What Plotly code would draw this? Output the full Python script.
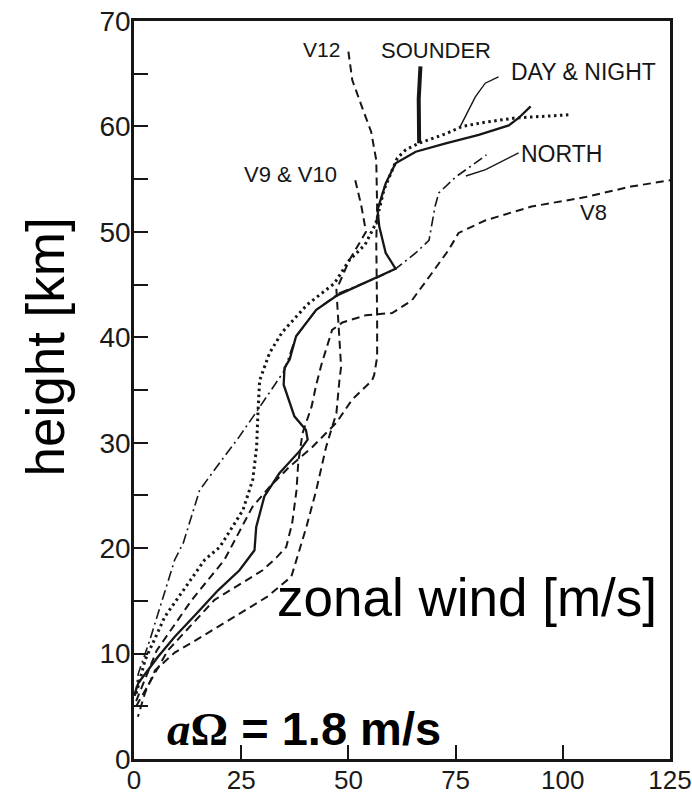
import plotly.graph_objects as go

# Zonal wind profiles (m/s) versus height (km)
sounder_u = [0.0, 1.0, 5.6, 9.5, 14.6, 19.6, 24.6, 28.1, 28.5, 30.4, 33.9, 38.6, 40.5, 40.1,
             37.4, 35.5, 34.9, 35.1, 36.3, 37.8, 42.5, 47.5, 56.4, 61.0, 58.7, 57.2, 56.8,
             58.3, 58.7, 61.0, 65.7, 72.7, 80.4, 87.4, 89.7, 92.5]
sounder_z = [6.0, 7.2, 9.7, 11.6, 13.8, 16.0, 17.9, 19.8, 22.0, 24.9, 27.1, 29.2, 30.3, 31.2,
             32.5, 34.7, 35.5, 37.1, 37.9, 40.1, 42.6, 44.0, 45.6, 46.5, 48.0, 50.5, 52.1,
             54.0, 54.6, 56.5, 57.6, 58.4, 59.2, 60.1, 60.8, 61.9]

daynight_u = [0.5, 2.6, 7.2, 12.6, 16.5, 20.0, 25.4, 27.7, 28.6, 28.9, 29.3, 31.6, 34.6, 40.4,
              46.7, 50.2, 53.9, 56.4, 58.3, 61.4, 63.4, 66.4, 72.7, 76.5, 81.9, 88.9, 101.3]
daynight_z = [6.2, 9.4, 13.5, 16.7, 18.9, 20.1, 23.6, 26.5, 29.6, 32.8, 35.9, 38.5, 40.5, 43.1,
              45.1, 47.3, 48.8, 50.8, 54.0, 57.0, 57.8, 58.4, 59.3, 60.0, 60.4, 60.8, 61.1]

north_u = [0.3, 1.0, 3.7, 6.4, 9.5, 11.5, 13.0, 15.3, 20.0, 24.6, 28.5, 33.2, 35.0, 37.8, 42.5,
           47.9, 56.4, 61.0, 65.7, 68.8, 69.5, 70.2, 71.1, 75.0, 78.8, 82.2]
north_z = [6.0, 8.1, 11.3, 14.8, 18.9, 20.5, 22.4, 25.5, 28.1, 30.6, 32.9, 35.8, 36.8, 40.1, 42.6,
           44.2, 45.6, 46.5, 48.0, 49.2, 50.8, 52.4, 53.7, 55.2, 56.3, 57.3]

v8_u = [0.5, 7.9, 18.8, 30.0, 33.2, 35.5, 36.9, 37.9, 38.3, 39.3, 41.4, 42.5, 43.7, 46.2, 48.6,
        54.1, 60.2, 64.8, 69.5, 73.4, 75.7, 82.0, 92.7, 105.3, 115.9, 125.2]
v8_z = [5.0, 10.3, 15.1, 17.9, 19.1, 20.1, 22.4, 25.5, 28.1, 30.9, 33.4, 35.5, 37.4, 40.7, 41.4,
        42.1, 42.3, 43.5, 46.1, 48.3, 49.9, 51.1, 52.4, 53.3, 54.3, 54.9]

v12_u = [50.0, 50.9, 53.2, 55.3, 56.5, 56.7, 56.5, 56.7, 56.7, 56.7, 56.0, 55.5, 50.9, 47.2,
         41.6, 36.2, 31.6, 27.6, 21.1, 13.5, 5.3, 0.5]
v12_z = [67.1, 64.4, 61.8, 59.5, 56.8, 52.4, 49.0, 45.0, 41.9, 38.1, 36.4, 35.9, 34.1, 31.9,
         29.6, 27.7, 25.8, 23.9, 18.9, 15.1, 10.3, 5.5]

v9v10_u = [51.6, 53.0, 54.1, 52.5, 50.2, 47.2, 47.5, 47.9, 48.3, 47.9, 47.2, 44.8, 42.5, 40.2,
           37.9, 36.7, 31.1, 23.5, 15.8, 9.5, 4.9, 2.6, 0.9]
v9v10_z = [54.9, 52.5, 50.0, 48.9, 47.3, 44.5, 42.5, 40.4, 37.2, 35.9, 32.8, 29.6, 25.5, 22.0,
           18.9, 17.3, 15.4, 13.5, 11.6, 10.1, 8.4, 6.3, 4.0]

# Leader lines from the curve labels
sounder_tag_u = [66.5, 66.4, 66.8]
sounder_tag_z = [58.4, 62.6, 65.7]
daynight_tag_u = [76.1, 79.6, 81.9, 85.0]
daynight_tag_z = [60.0, 62.8, 64.1, 64.7]
north_tag_u = [77.4, 82.0, 89.7]
north_tag_z = [55.3, 55.9, 57.5]

# Curve label texts, anchor points (u, z) and font sizes
label_text = ["V12", "SOUNDER", "DAY & NIGHT", "V9 & V10", "NORTH", "V8"]
label_u = [43.7, 70.4, 104.8, 36.5, 99.7, 107.1]
label_z = [67.3, 67.2, 65.2, 55.4, 57.4, 51.8]
label_size = [21, 22, 23, 22, 23, 22]

x_ticks = [0, 25, 50, 75, 100, 125]
y_ticks = [0, 10, 20, 30, 40, 50, 60, 70]

INK = "#161616"
FONT = "Liberation Sans, Arial, Helvetica, sans-serif"

fig = go.Figure()

def curve(u, z, width, dash):
    fig.add_trace(go.Scatter(x=u, y=z, mode="lines",
                             line=dict(color=INK, width=width, dash=dash),
                             hoverinfo="skip", showlegend=False))

curve(v8_u, v8_z, 2.0, "8px,5px")
curve(v12_u, v12_z, 2.0, "8px,5px")
curve(v9v10_u, v9v10_z, 2.0, "8px,5px")
curve(north_u, north_z, 1.6, "10px,4px,2px,4px")
curve(daynight_u, daynight_z, 3.0, "2.5px,3.5px")
curve(sounder_u, sounder_z, 2.3, "solid")
curve(sounder_tag_u, sounder_tag_z, 4.0, "solid")
curve(daynight_tag_u, daynight_tag_z, 1.4, "solid")
curve(north_tag_u, north_tag_z, 1.4, "solid")

for t, u, z, s in zip(label_text, label_u, label_z, label_size):
    fig.add_annotation(x=u, y=z, xref="x", yref="y", text=t, showarrow=False,
                       font=dict(family=FONT, size=s, color=INK),
                       xanchor="center", yanchor="middle")

fig.add_annotation(x=-0.1654, y=0.558, xref="paper", yref="paper", text="height [km]",
                   textangle=-90, showarrow=False, xanchor="center", yanchor="middle",
                   font=dict(family=FONT, size=53, color="#000"))
fig.add_annotation(x=0.263, y=0.2195, xref="paper", yref="paper", text="zonal wind [m/s]",
                   showarrow=False, xanchor="left", yanchor="middle",
                   font=dict(family=FONT, size=53, color="#000"))
fig.add_annotation(x=0.0578, y=0.042, xref="paper", yref="paper",
                   text="<b><i style='font-family:Liberation Serif'>a</i>"
                        "<span style='font-family:Liberation Serif'>Ω</span> = 1.8 m/s</b>",
                   showarrow=False, xanchor="left", yanchor="middle",
                   font=dict(family=FONT, size=47, color="#000"))

axis_common = dict(showgrid=False, zeroline=False, showline=True, linecolor=INK,
                   linewidth=2.5, mirror=True, ticks="inside", ticklen=14,
                   tickwidth=2, tickcolor=INK, automargin=False,
                   ticklabeloverflow="allow")

fig.update_xaxes(range=[0, 125], tickvals=x_ticks, ticktext=[str(v) for v in x_ticks],
                 ticklabelstandoff=-4,
                 tickfont=dict(family=FONT, size=26, color="#1a1a1a"),
                 **axis_common)
fig.update_yaxes(range=[0, 70], tickvals=y_ticks, ticktext=[str(v) for v in y_ticks],
                 ticklabelstandoff=-5,
                 tickfont=dict(family=FONT, size=28, color="#1a1a1a"),
                 minor=dict(dtick=5, ticks="inside", ticklen=14, tickwidth=2, tickcolor=INK),
                 **axis_common)

fig.update_layout(width=692, height=799, margin=dict(l=134, r=22, t=21, b=40),
                  paper_bgcolor="white", plot_bgcolor="white", showlegend=False)

fig.write_html("out.html")
